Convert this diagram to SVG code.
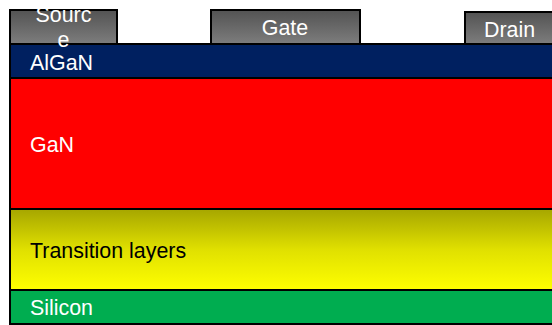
<svg xmlns="http://www.w3.org/2000/svg" width="552" height="325" viewBox="0 0 552 325">
<defs>
<linearGradient id="metal" x1="0" y1="0" x2="0" y2="1">
<stop offset="0" stop-color="#535353"/>
<stop offset="1" stop-color="#7d7d7d"/>
</linearGradient>
<linearGradient id="trans" x1="0" y1="0" x2="0" y2="1">
<stop offset="0" stop-color="#a6a600"/>
<stop offset="0.5" stop-color="#e0e000"/>
<stop offset="1" stop-color="#ffff00"/>
</linearGradient>
</defs>
<style>
.layer{stroke:#000;stroke-width:2}
.lbl{font-family:"Liberation Sans",Arial,sans-serif;font-size:21.4px;fill:#fff}
.dark{fill:#000}
</style>
<rect width="552" height="325" fill="#fff"/>
<g id="silicon"><rect class="layer" x="10" y="290" width="560" height="34" fill="#00ad50"/><text class="lbl" x="30" y="315">Silicon</text></g>
<g id="transition"><rect class="layer" x="10" y="209" width="560" height="81" fill="url(#trans)"/><text class="lbl dark" x="30" y="258">Transition layers</text></g>
<g id="gan"><rect class="layer" x="10" y="78" width="560" height="131" fill="#ff0000"/><text class="lbl" x="30" y="152">GaN</text></g>
<g id="algan"><rect class="layer" x="10" y="44" width="560" height="34" fill="#002060"/><text class="lbl" x="30" y="70">AlGaN</text></g>
<g id="source"><rect class="layer" x="10" y="10" width="107" height="34" fill="url(#metal)"/><text class="lbl" x="63.5" y="22" text-anchor="middle">Sourc</text><text class="lbl" x="63.5" y="47" text-anchor="middle">e</text></g>
<g id="gate"><rect class="layer" x="211" y="10" width="149" height="34" fill="url(#metal)"/><text class="lbl" x="285" y="35" text-anchor="middle">Gate</text></g>
<g id="drain"><rect class="layer" x="465" y="12" width="100" height="32" fill="url(#metal)"/><text class="lbl" x="509.5" y="37" text-anchor="middle">Drain</text></g>
<g id="connectors"/>
</svg>
